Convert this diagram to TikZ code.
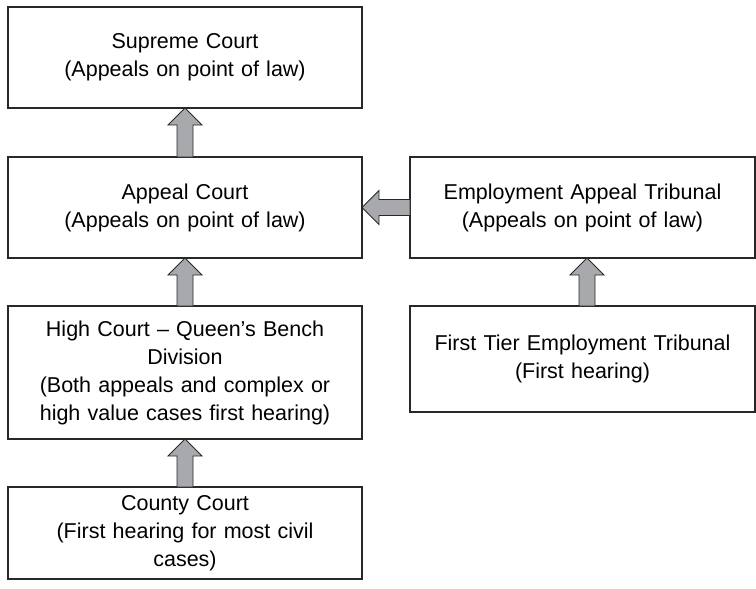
\documentclass[tikz,border=0pt]{standalone}
\usepackage{fontspec}
\setmainfont{Liberation Sans}
\usepackage{xcolor}
\usepackage{tikz}
\usetikzlibrary{positioning,calc}

\definecolor{arrowgray}{RGB}{168,169,173}
\definecolor{linegray}{RGB}{40,40,40}

\tikzset{
  court/.style = {draw = linegray, line width = 1.1pt, outer sep = 0pt, inner sep = 0pt,
    minimum width = 354pt, text width = 348pt, align = center,
    font = \fontsize{21.5}{28}\selectfont},
  tribunal/.style = {court, minimum width = 345pt, text width = 339pt},
  blockarrow/.style = {draw = linegray, line width = 0.9pt, fill = arrowgray, line join = miter}
}

% block arrow pointing up, from #1 (bottom) to #2 (tip)
\newcommand{\blockup}[2]{%
  \draw[blockarrow] let \p1 = #1, \p2 = #2 in
    (\x1-8pt,\y1) -- (\x1-8pt,\y2-17pt) -- (\x1-17pt,\y2-17pt) -- (\x1,\y2)
    -- (\x1+17pt,\y2-17pt) -- (\x1+8pt,\y2-17pt) -- (\x1+8pt,\y1) -- cycle;}
% block arrow pointing left, from #1 (tail) to #2 (tip)
\newcommand{\blockleft}[2]{%
  \draw[blockarrow] let \p1 = #1, \p2 = #2 in
    (\x1,\y1-8pt) -- (\x2+17pt,\y1-8pt) -- (\x2+17pt,\y1-17pt) -- (\x2,\y1)
    -- (\x2+17pt,\y1+17pt) -- (\x2+17pt,\y1+8pt) -- (\x1,\y1+8pt) -- cycle;}

\begin{document}
\begin{tikzpicture}[x = 1pt, y = -1pt]
        \useasboundingbox (0,0) rectangle (756,589);

        \node [court, minimum height = 101pt] (supreme) at (185,57.5) {Supreme Court\\(Appeals on point of law)};
        \node [court, minimum height = 101pt] (appeal) [below = 49pt of supreme] {Appeal Court\\(Appeals on point of law)};
        \node [court, minimum height = 133pt] (high) [below = 48pt of appeal] {High Court -- Queen’s Bench\\Division\\(Both appeals and complex or\\high value cases first hearing)};
        \node [court, minimum height = 92pt] (county) [below = 48pt of high] {County Court\\(First hearing for most civil\\cases)};
        \node [tribunal, minimum height = 101pt] (eat) [right = 48pt of appeal] {Employment Appeal Tribunal\\(Appeals on point of law)};
        \node [tribunal, minimum height = 106pt] (ftet) [below = 48pt of eat.south, anchor = north] {First Tier Employment Tribunal\\(First hearing)};

        \blockup{(appeal.north)}{(supreme.south)}
        \blockup{(high.north)}{(appeal.south)}
        \blockup{(county.north)}{(high.south)}
        \blockup{([xshift = 4.5pt]ftet.north)}{([xshift = 4.5pt]eat.south)}
        \blockleft{(eat.west)}{(appeal.east)}
    \end{tikzpicture}
\end{document}
